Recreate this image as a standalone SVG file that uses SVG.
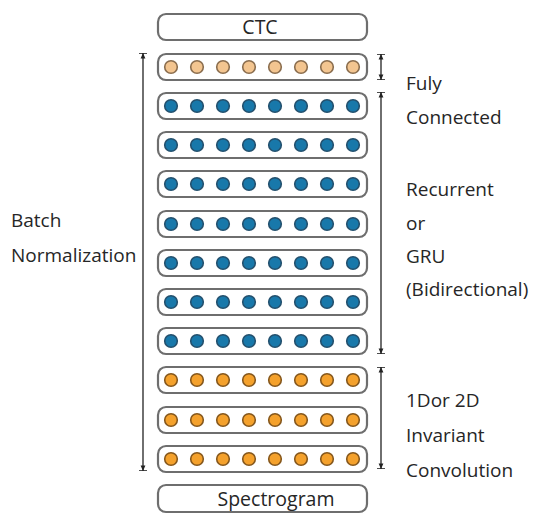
<svg xmlns="http://www.w3.org/2000/svg" width="550" height="532" viewBox="0 0 550 532">
<defs>
<style>
.box{fill:#fff;stroke:#6e6e6e;stroke-width:2.2}
.lbl{font-family:"Open Sans","Noto Sans",sans-serif;font-size:19px;fill:#262626}
.ttl{font-family:"Open Sans","Noto Sans",sans-serif;font-size:19.5px;fill:#262626;text-anchor:middle}
.pe{fill:#f3c590;stroke:#8a6d4e;stroke-width:1.6}
.bl{fill:#1878aa;stroke:#24506d;stroke-width:1.6}
.or{fill:#f4a12c;stroke:#85571c;stroke-width:1.6}
.dim{stroke:#333;stroke-width:1.4;fill:none;marker-start:url(#cap);marker-end:url(#cap)}
</style>
<marker id="cap" viewBox="0 0 10 10" refX="10" refY="5" markerWidth="8" markerHeight="8" orient="auto-start-reverse" markerUnits="userSpaceOnUse">
<path d="M10,0 L10,10" stroke="#222" stroke-width="2"/>
<path d="M3,2 L10,5 L3,8 Z" fill="#222"/>
</marker>
</defs>
<rect width="550" height="532" fill="#fff"/>

<g id="ctc"><rect class="box" x="158" y="14" width="209" height="26" rx="8"/><text class="ttl" x="260" y="34">CTC</text></g>
<g id="spectrogram"><rect class="box" x="158" y="485" width="209" height="27" rx="8"/><text class="ttl" x="276" y="506">Spectrogram</text></g>

<g id="fc-layer" class="pe">
<rect class="box" x="158" y="54" width="209" height="26" rx="8"/>
<circle cx="171" cy="67" r="6.3"/><circle cx="197" cy="67" r="6.3"/><circle cx="223" cy="67" r="6.3"/><circle cx="249" cy="67" r="6.3"/><circle cx="275" cy="67" r="6.3"/><circle cx="301" cy="67" r="6.3"/><circle cx="327" cy="67" r="6.3"/><circle cx="353" cy="67" r="6.3"/>
</g>

<g id="rnn-layers" class="bl">
<g id="rnn1"><rect class="box" x="158" y="93" width="209" height="26" rx="8"/><circle cx="171" cy="106" r="6.3"/><circle cx="197" cy="106" r="6.3"/><circle cx="223" cy="106" r="6.3"/><circle cx="249" cy="106" r="6.3"/><circle cx="275" cy="106" r="6.3"/><circle cx="301" cy="106" r="6.3"/><circle cx="327" cy="106" r="6.3"/><circle cx="353" cy="106" r="6.3"/></g>
<g id="rnn2"><rect class="box" x="158" y="132" width="209" height="26" rx="8"/><circle cx="171" cy="145" r="6.3"/><circle cx="197" cy="145" r="6.3"/><circle cx="223" cy="145" r="6.3"/><circle cx="249" cy="145" r="6.3"/><circle cx="275" cy="145" r="6.3"/><circle cx="301" cy="145" r="6.3"/><circle cx="327" cy="145" r="6.3"/><circle cx="353" cy="145" r="6.3"/></g>
<g id="rnn3"><rect class="box" x="158" y="171" width="209" height="26" rx="8"/><circle cx="171" cy="184" r="6.3"/><circle cx="197" cy="184" r="6.3"/><circle cx="223" cy="184" r="6.3"/><circle cx="249" cy="184" r="6.3"/><circle cx="275" cy="184" r="6.3"/><circle cx="301" cy="184" r="6.3"/><circle cx="327" cy="184" r="6.3"/><circle cx="353" cy="184" r="6.3"/></g>
<g id="rnn4"><rect class="box" x="158" y="211" width="209" height="26" rx="8"/><circle cx="171" cy="224" r="6.3"/><circle cx="197" cy="224" r="6.3"/><circle cx="223" cy="224" r="6.3"/><circle cx="249" cy="224" r="6.3"/><circle cx="275" cy="224" r="6.3"/><circle cx="301" cy="224" r="6.3"/><circle cx="327" cy="224" r="6.3"/><circle cx="353" cy="224" r="6.3"/></g>
<g id="rnn5"><rect class="box" x="158" y="250" width="209" height="26" rx="8"/><circle cx="171" cy="263" r="6.3"/><circle cx="197" cy="263" r="6.3"/><circle cx="223" cy="263" r="6.3"/><circle cx="249" cy="263" r="6.3"/><circle cx="275" cy="263" r="6.3"/><circle cx="301" cy="263" r="6.3"/><circle cx="327" cy="263" r="6.3"/><circle cx="353" cy="263" r="6.3"/></g>
<g id="rnn6"><rect class="box" x="158" y="289" width="209" height="26" rx="8"/><circle cx="171" cy="302" r="6.3"/><circle cx="197" cy="302" r="6.3"/><circle cx="223" cy="302" r="6.3"/><circle cx="249" cy="302" r="6.3"/><circle cx="275" cy="302" r="6.3"/><circle cx="301" cy="302" r="6.3"/><circle cx="327" cy="302" r="6.3"/><circle cx="353" cy="302" r="6.3"/></g>
<g id="rnn7"><rect class="box" x="158" y="328" width="209" height="26" rx="8"/><circle cx="171" cy="341" r="6.3"/><circle cx="197" cy="341" r="6.3"/><circle cx="223" cy="341" r="6.3"/><circle cx="249" cy="341" r="6.3"/><circle cx="275" cy="341" r="6.3"/><circle cx="301" cy="341" r="6.3"/><circle cx="327" cy="341" r="6.3"/><circle cx="353" cy="341" r="6.3"/></g>
</g>

<g id="conv-layers" class="or">
<g id="conv1"><rect class="box" x="158" y="367" width="209" height="26" rx="8"/><circle cx="171" cy="380" r="6.3"/><circle cx="197" cy="380" r="6.3"/><circle cx="223" cy="380" r="6.3"/><circle cx="249" cy="380" r="6.3"/><circle cx="275" cy="380" r="6.3"/><circle cx="301" cy="380" r="6.3"/><circle cx="327" cy="380" r="6.3"/><circle cx="353" cy="380" r="6.3"/></g>
<g id="conv2"><rect class="box" x="158" y="407" width="209" height="26" rx="8"/><circle cx="171" cy="420" r="6.3"/><circle cx="197" cy="420" r="6.3"/><circle cx="223" cy="420" r="6.3"/><circle cx="249" cy="420" r="6.3"/><circle cx="275" cy="420" r="6.3"/><circle cx="301" cy="420" r="6.3"/><circle cx="327" cy="420" r="6.3"/><circle cx="353" cy="420" r="6.3"/></g>
<g id="conv3"><rect class="box" x="158" y="446" width="209" height="26" rx="8"/><circle cx="171" cy="459" r="6.3"/><circle cx="197" cy="459" r="6.3"/><circle cx="223" cy="459" r="6.3"/><circle cx="249" cy="459" r="6.3"/><circle cx="275" cy="459" r="6.3"/><circle cx="301" cy="459" r="6.3"/><circle cx="327" cy="459" r="6.3"/><circle cx="353" cy="459" r="6.3"/></g>
</g>

<g id="connectors">
<line class="dim" x1="143" y1="53" x2="143" y2="471"/>
<line class="dim" x1="381" y1="54" x2="381" y2="80"/>
<line class="dim" x1="381" y1="92" x2="381" y2="354"/>
<line class="dim" x1="381" y1="367" x2="381" y2="469"/>
</g>

<g id="labels">
<text class="lbl" x="11" y="227">Batch</text>
<text class="lbl" x="11" y="262">Normalization</text>
<text class="lbl" x="406" y="90">Fuly</text>
<text class="lbl" x="406" y="124">Connected</text>
<text class="lbl" x="406" y="196">Recurrent</text>
<text class="lbl" x="406" y="230">or</text>
<text class="lbl" x="406" y="263">GRU</text>
<text class="lbl" x="406" y="296">(Bidirectional)</text>
<text class="lbl" x="406" y="407">1Dor 2D</text>
<text class="lbl" x="406" y="442">Invariant</text>
<text class="lbl" x="406" y="477">Convolution</text>
</g>
</svg>
